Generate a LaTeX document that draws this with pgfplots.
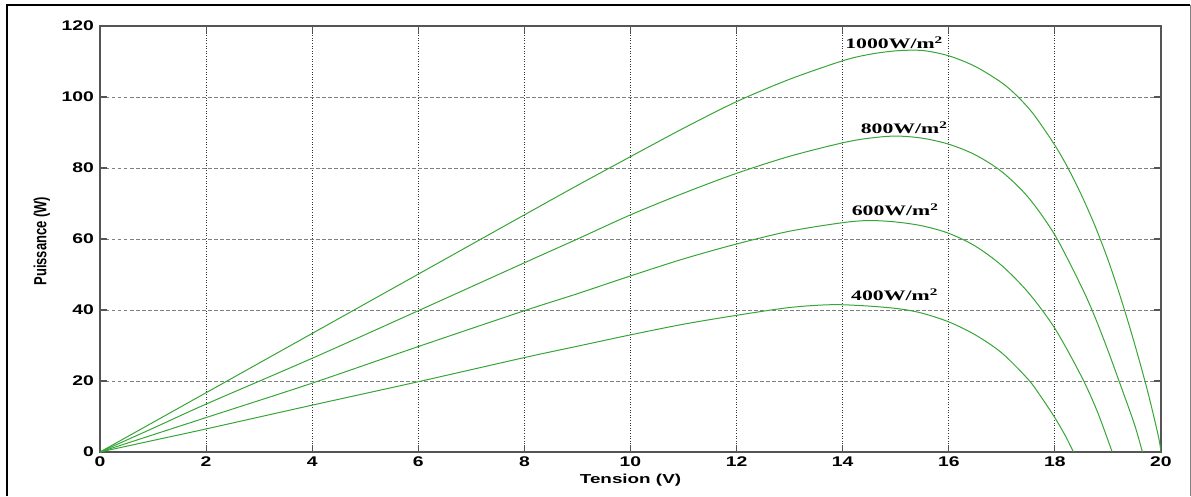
\documentclass[border=0pt]{standalone}
\usepackage{fontspec}
\setmainfont{Liberation Sans}
\newfontfamily\tnr{Liberation Serif}
\usepackage{graphicx}
\usepackage{pgfplots}
\pgfplotsset{compat=1.18}
\definecolor{curve}{RGB}{55,165,55}
\definecolor{axgray}{RGB}{85,85,85}
\newcommand{\irr}[1]{\tnr\bfseries\fontsize{14.5}{14.5}\selectfont\scalebox{1.5}[1]{#1W/m\textsuperscript{2}}}
\begin{document}
\begin{tikzpicture}
\begin{axis}[
  at={(0pt,0pt)}, anchor=south west,
  scale only axis, width=1061pt, height=426pt,
  xmin=0, xmax=20, ymin=0, ymax=120,
  xtick={0,2,...,20}, ytick={0,20,...,120},
  /pgf/number format/assume math mode=true,
  axis line style={axgray, line width=1.1pt},
  tick style={axgray, line width=1.1pt},
  tick align=inside, major tick length=7pt,
  grid=major,
  x grid style={black!80, line width=0.9pt, dash pattern=on 0.9pt off 1.7pt},
  y grid style={black!50, line width=0.9pt, dash pattern=on 3.5pt off 2.5pt},
  ticklabel style={font=\fontsize{14}{14}\selectfont\bfseries, inner sep=0pt},
  xticklabel={\scalebox{1.38}[1]{\pgfmathprintnumber{\tick}}},
  yticklabel={\scalebox{1.38}[1]{\pgfmathprintnumber{\tick}}},
  xticklabel style={anchor=north, yshift=-5pt},
  yticklabel style={anchor=east, xshift=-6pt},
  xlabel={\scalebox{1.45}[1]{Tension (V)}},
  ylabel={\scalebox{1}[1.35]{Puissance (W)}},
  label style={font=\fontsize{13}{13}\selectfont\bfseries, inner sep=0pt},
  xlabel style={at={(axis description cs:0.5,-0.066)}, anchor=center},
  ylabel style={at={(axis description cs:-0.0547,0.495)}, anchor=center},
  clip=true,
]
\addplot[curve, line width=1pt, mark=none, smooth, tension=0.5] coordinates {(0,0)(1,8.35)(2,16.7)(4,33.4)(6,50.1)(8,66.8)(9,75.1)(10,83.2)(11,91.2)(12,98.7)(13,105.0)(14,110.2)(14.5,112.0)(15,113.0)(15.5,113.1)(16,111.6)(16.5,108.6)(17,104.0)(17.3,100.1)(17.6,95.1)(18,86.4)(18.25,79.9)(18.5,72.4)(18.75,63.9)(19,54.2)(19.25,43.0)(19.5,30.6)(19.75,17.0)(19.95,4.5)(20,0)};
\addplot[curve, line width=1pt, mark=none, smooth, tension=0.5] coordinates {(0,0)(1,6.7)(2,13.5)(4,26.4)(6,39.8)(8,53.3)(9,60)(10,66.8)(11,72.9)(12,78.5)(13,83.3)(14,87.1)(14.5,88.4)(15,89.0)(15.5,88.4)(16,86.7)(16.5,83.7)(17,78.95)(17.5,71.7)(18,61.1)(18.5,46.6)(18.75,38.2)(19,28.6)(19.25,18.3)(19.5,7.8)(19.65,0)};
\addplot[curve, line width=1pt, mark=none, smooth, tension=0.5] coordinates {(0,0)(1,4.85)(2,9.7)(4,19.4)(6,29.7)(8,39.8)(9,44.6)(10,49.6)(11,54.4)(12,58.6)(13,62.2)(14,64.6)(14.5,65.2)(15,64.8)(15.5,63.7)(16,61.6)(16.5,58.0)(17,52.5)(17.5,44.9)(18,34.8)(18.5,21.3)(18.8,11.4)(19.08,0)};
\addplot[curve, line width=1pt, mark=none, smooth, tension=0.5] coordinates {(0,0)(1,3.25)(2,6.5)(4,13.2)(6,19.8)(8,26.6)(9,29.8)(10,33.0)(11,36.0)(12,38.5)(13,40.7)(13.8,41.5)(14.5,41.1)(15.08,40.3)(15.5,39.1)(16,36.65)(16.5,33.0)(17,27.9)(17.5,20.4)(17.75,15.3)(18,9.65)(18.2,4.5)(18.35,0)};
\node at (axis cs:14.97,115.2) {\irr{1000}};
\node at (axis cs:15.16,91.3) {\irr{800}};
\node at (axis cs:14.99,68.2) {\irr{600}};
\node at (axis cs:14.98,44.4) {\irr{400}};
\end{axis}
\pgfresetboundingbox
\path[use as bounding box] (-100pt,-44pt) rectangle (1091pt,452pt);
\draw[black, line width=2.6pt] (-93pt,-44pt) -- (-93pt,447pt) -- (1090pt,447pt);
\draw[gray, line width=0.8pt] (1090pt,447pt) -- (1090pt,-44pt);
\end{tikzpicture}
\end{document}
